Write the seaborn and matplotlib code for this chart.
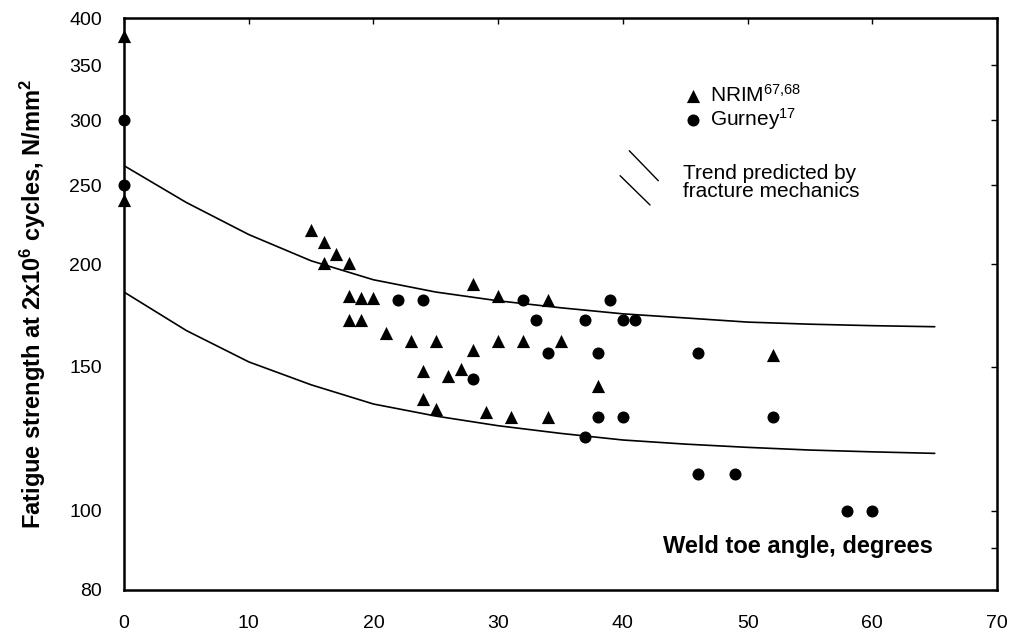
import numpy as np
import matplotlib
matplotlib.use('Agg')
import matplotlib.pyplot as plt
import seaborn as sns

# NRIM data (triangles)
nrim_angle = [0, 0, 15, 16, 17, 16, 18, 18, 19, 20, 18, 19, 21, 23, 25, 28, 30, 32, 35,
              28, 30, 34, 24, 26, 27, 24, 25, 29, 31, 34, 38, 52]
nrim_strength = [380, 240, 220, 213, 206, 201, 201, 183, 182, 182, 171, 171, 165, 161, 161, 157, 161, 161, 161,
                 189, 183, 181, 148, 146, 149, 137, 133, 132, 130, 130, 142, 155]

# Gurney data (circles)
gurney_angle = [0, 0, 22, 24, 32, 39, 33, 37, 40, 41, 34, 38, 28, 38, 40, 37, 46, 52, 46, 49, 58, 60]
gurney_strength = [300, 250, 181, 181, 181, 181, 171, 171, 171, 171, 156, 156, 145, 130, 130, 123,
                   156, 130, 111, 111, 100, 100]

# fracture mechanics trend curves
curve_angle = [0, 5, 10, 15, 20, 25, 30, 35, 40, 45, 50, 55, 60, 65]
upper_curve = [264, 238, 217.5, 202, 191.5, 185, 180.5, 177, 174, 172, 170, 169, 168.3, 167.8]
lower_curve = [185, 166, 152, 142.5, 135, 130.5, 127, 124.3, 122, 120.6, 119.5, 118.6, 118, 117.5]

y_ticks = [80, 100, 150, 200, 250, 300, 350, 400]
x_ticks = [0, 10, 20, 30, 40, 50, 60, 70]

sns.set_style('white')
plt.rcParams['font.family'] = ['Liberation Sans', 'DejaVu Sans']
plt.rcParams['mathtext.fontset'] = 'custom'
plt.rcParams['mathtext.rm'] = 'Liberation Sans'
plt.rcParams['mathtext.it'] = 'Liberation Sans'
plt.rcParams['mathtext.bf'] = 'Liberation Sans:bold'
plt.rcParams['mathtext.default'] = 'regular'
plt.rcParams['text.color'] = 'black'
plt.rcParams['axes.labelcolor'] = 'black'

fig = plt.figure(figsize=(10.1, 6.32), dpi=100)
ax = fig.add_axes([0.1228, 0.0665, 0.8644, 0.905])

sns.lineplot(x=curve_angle, y=upper_curve, ax=ax, color='black', lw=1.2)
sns.lineplot(x=curve_angle, y=lower_curve, ax=ax, color='black', lw=1.2)

sns.scatterplot(x=nrim_angle, y=nrim_strength, ax=ax, marker='^', s=90, color='black',
                edgecolor='black', linewidth=0, label=r'NRIM$^{67{,}68}$', clip_on=False, zorder=5)
sns.scatterplot(x=gurney_angle, y=gurney_strength, ax=ax, marker='o', s=75, color='black',
                edgecolor='black', linewidth=0, label=r'Gurney$^{17}$', clip_on=False, zorder=5)

ax.set_yscale('log')
ax.set_ylim(80, 400)
ax.set_xlim(0, 70)
ax.set_yticks(y_ticks)
ax.set_yticklabels([str(v) for v in y_ticks])
ax.set_yticks([90], minor=True)
ax.yaxis.set_minor_formatter(matplotlib.ticker.NullFormatter())
ax.set_xticks(x_ticks)
ax.set_xticklabels([str(v) for v in x_ticks])

ax.tick_params(axis='both', which='both', direction='in', top=True, right=True,
               length=4, width=1, labelsize=14, colors='black')
ax.tick_params(axis='y', pad=16)
ax.tick_params(axis='x', pad=18)
for sp in ax.spines.values():
    sp.set_linewidth(1.8)
    sp.set_color('black')

ax.set_ylabel(r'Fatigue strength at 2x10$^{6}$ cycles, N/mm$^{2}$', fontsize=17, fontweight='bold')
ax.yaxis.set_label_coords(-0.087, 0.5)
ax.set_xlabel('')

ax.text(0.9267, 0.0757, 'Weld toe angle, degrees', transform=ax.transAxes, ha='right', va='center',
        fontsize=17, fontweight='bold')

ax.legend(loc='upper left', bbox_to_anchor=(0.640, 0.885), frameon=False, fontsize=15,
          handlelength=1.0, handletextpad=0.32, labelspacing=0.0, borderpad=0, borderaxespad=0)

# trend symbol: two short diagonal strokes
ax.plot([0.5787, 0.6120], [0.7680, 0.7155], transform=ax.transAxes, color='black', lw=1)
ax.plot([0.5682, 0.6025], [0.7243, 0.6731], transform=ax.transAxes, color='black', lw=1)
ax.text(0.6399, 0.7124, 'Trend predicted by\nfracture mechanics', transform=ax.transAxes,
        ha='left', va='center', fontsize=15, linespacing=0.95)

fig.savefig('out.png', dpi=100)
